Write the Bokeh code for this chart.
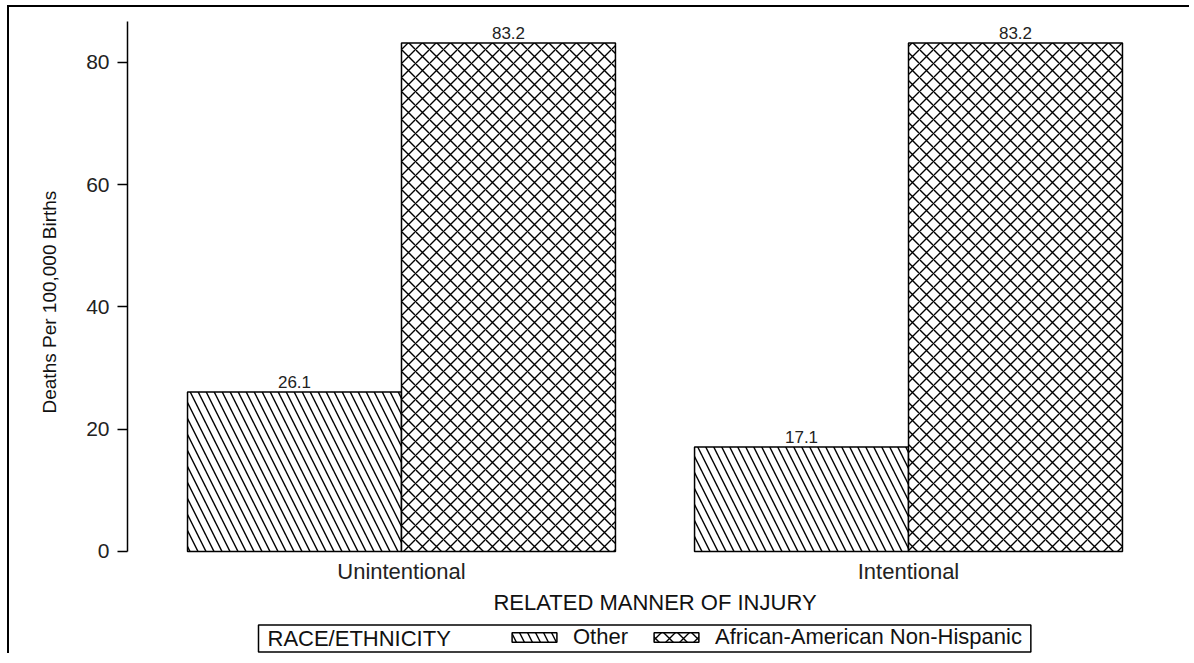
from bokeh.plotting import figure
from bokeh.models import (ColumnDataSource, Range1d, FixedTicker, LabelSet,
                          Legend, LegendItem, Label, Title)
from bokeh.core.properties import value
from bokeh.transform import dodge
from bokeh.embed import file_html
from bokeh.resources import INLINE

# ---------------- data ----------------
categories = ["Unintentional", "Intentional"]
other_vals = [26.1, 17.1]
aa_vals = [83.2, 83.2]
series_names = ["Other", "African-American Non-Hispanic"]
y_ticks = [0, 20, 40, 60, 80]
legend_title = "RACE/ETHNICITY"
x_title = "RELATED MANNER OF INJURY"
y_title = "Deaths Per 100,000 Births"

pos = list(range(len(categories)))
src = ColumnDataSource(dict(
    pos=pos,
    other=other_vals,
    aa=aa_vals,
    other_lbl=[f"{v:.1f}" for v in other_vals],
    aa_lbl=[f"{v:.1f}" for v in aa_vals],
))

FONT = "Liberation Sans"
BW = 0.422
Y_TOP = 86.7
Y_BOTTOM = -16.7   # extra room below zero for axis labels and legend

p = figure(width=1182, height=648,
           x_range=Range1d(-0.5404, 1.5404), y_range=Range1d(Y_BOTTOM, Y_TOP),
           output_backend="svg", toolbar_location=None,
           min_border_left=118, min_border_right=9,
           min_border_top=14, min_border_bottom=2,
           styles={"margin-left": "7px", "margin-top": "5px",
                   "border-style": "solid none none solid",
                   "border-width": "2px", "border-color": "black"})
p.xgrid.visible = False
p.ygrid.visible = False
p.outline_line_color = None
p.background_fill_color = "white"
p.border_fill_color = "white"

r1 = p.vbar(x=dodge("pos", -BW / 2, range=p.x_range), top="other", bottom=0,
            width=BW, source=src, fill_color="white", line_color="black",
            line_width=1.5, hatch_pattern="left_diagonal_line", hatch_scale=16,
            hatch_weight=1.4, hatch_color="black")
r2 = p.vbar(x=dodge("pos", BW / 2, range=p.x_range), top="aa", bottom=0,
            width=BW, source=src, fill_color="white", line_color="black",
            line_width=1.5, hatch_pattern="diagonal_cross", hatch_scale=14,
            hatch_weight=1.4, hatch_color="black")

for col, off in (("other", -BW / 2), ("aa", BW / 2)):
    p.add_layout(LabelSet(x=dodge("pos", off, range=p.x_range), y=col,
                          text=col + "_lbl", source=src, y_offset=4,
                          text_align="center", text_baseline="bottom",
                          text_font=value(FONT), text_font_size="17px",
                          text_color="#222222"))

# y axis
ya = p.yaxis[0]
ya.ticker = FixedTicker(ticks=y_ticks)
ya.bounds = (0, Y_TOP)
ya.axis_line_width = 1.5
ya.axis_line_color = "black"
ya.major_tick_out = 10
ya.major_tick_in = 0
ya.major_tick_line_width = 1.5
ya.minor_tick_line_color = None
ya.major_label_standoff = 8
ya.major_label_text_font = FONT
ya.major_label_text_font_size = "21px"
ya.major_label_text_color = "#222222"

# y title, placed as a side title so it can sit centred on the 0..86.7 span
ytitle = Title(text=y_title, align="left", offset=240, standoff=47,
               text_font=FONT, text_font_size="19px", text_font_style="normal",
               text_color="#111111")
p.add_layout(ytitle, "left")

# x axis, drawn at y = 0
xa = p.xaxis[0]
xa.fixed_location = 0
xa.ticker = FixedTicker(ticks=pos)
xa.major_label_overrides = {i: c for i, c in enumerate(categories)}
xa.axis_line_color = None
xa.major_tick_line_color = None
xa.minor_tick_line_color = None
xa.major_label_standoff = 2
xa.major_label_text_font = FONT
xa.major_label_text_font_size = "22px"
xa.major_label_text_color = "#222222"
xa.axis_label = x_title
xa.axis_label_text_font = FONT
xa.axis_label_text_font_size = "22px"
xa.axis_label_text_font_style = "normal"
xa.axis_label_text_color = "#111111"
xa.axis_label_standoff = 2

# legend frame + title
title_lbl = Label(x=131, y=15, x_units="screen", y_units="screen",
                  text=legend_title, text_align="left", text_baseline="middle",
                  text_font=FONT, text_font_size="22px",
                  text_color="#111111",
                  border_line_color="black", border_line_width=1.5,
                  background_fill_color="white")
try:
    title_lbl.padding = dict(left=9, right=580, top=1, bottom=1)
except Exception:
    pass
p.add_layout(title_lbl)

legend = Legend(items=[LegendItem(label=series_names[0], renderers=[r1]),
                       LegendItem(label=series_names[1], renderers=[r2])],
                orientation="horizontal", location=(379, 3))
legend.label_text_font = FONT
legend.label_text_font_size = "22px"
legend.label_text_color = "#111111"
legend.glyph_width = 56
legend.glyph_height = 12
legend.label_height = 23
legend.label_standoff = 11
legend.spacing = 20
legend.padding = 0
legend.margin = 0
legend.border_line_color = None
legend.background_fill_alpha = 0
p.add_layout(legend, "center")

open("out.html", "w").write(file_html(p, INLINE))
